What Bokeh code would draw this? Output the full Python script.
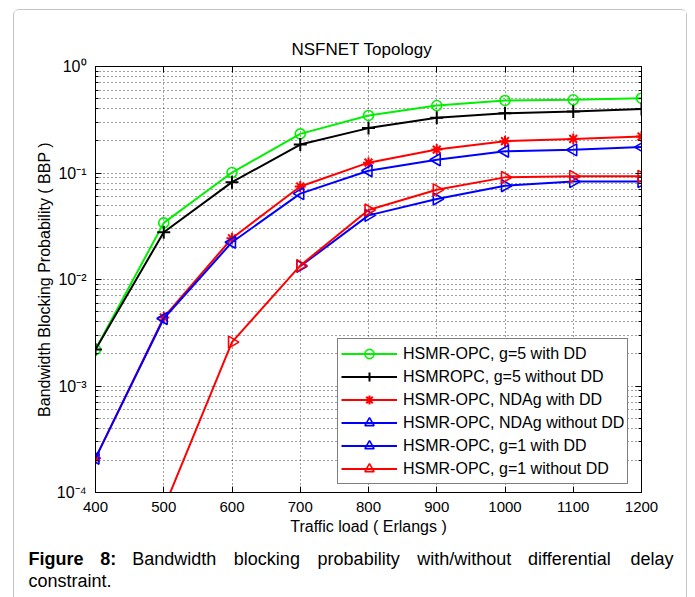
import math
from bokeh.plotting import figure
from bokeh.layouts import column
from bokeh.models import (Range1d, LinearAxis, LogAxis, FixedTicker, Legend,
                          LegendItem, CustomJSTickFormatter, ColumnDataSource)
from bokeh.core.properties import value
from bokeh.embed import file_html
from bokeh.resources import INLINE

nan = float("nan")

# ---------------- data ----------------
load = [400, 500, 600, 700, 800, 900, 1000, 1100, 1200]
g5_with_dd = [2.2e-3, 0.034, 0.101, 0.233, 0.347, 0.43, 0.48, 0.487, 0.504]
g5_without_dd = [2.2e-3, 0.0278, 0.082, 0.185, 0.264, 0.33, 0.364, 0.378, 0.40]
ndag_with_dd = [2.1e-4, 4.4e-3, 0.0244, 0.0747, 0.125, 0.166, 0.199, 0.209, 0.22]
ndag_without_dd = [2.1e-4, 4.3e-3, 0.0224, 0.064, 0.105, 0.133, 0.16, 0.165, 0.175]
g1_with_dd = [nan, nan, nan, 0.0133, 0.040, 0.057, 0.076, 0.083, 0.083]
g1_without_dd = [nan, 7.1e-5, 2.58e-3, 0.0135, 0.045, 0.0695, 0.091, 0.093, 0.093]

series_labels = ["HSMR-OPC, g=5 with DD", "HSMROPC, g=5 without DD",
                 "HSMR-OPC, NDAg with DD", "HSMR-OPC, NDAg without DD",
                 "HSMR-OPC, g=1 with DD", "HSMR-OPC, g=1 without DD"]

x_ticks = [400, 500, 600, 700, 800, 900, 1000, 1100, 1200]
y_exponents = [0, -1, -2, -3, -4]
y_major = [10.0 ** e for e in y_exponents]
y_minor = [k * 10.0 ** e for e in range(-4, 0) for k in range(2, 10)]

title_text = "NSFNET Topology"
xlabel_text = "Traffic load ( Erlangs )"
ylabel_text = "Bandwidth Blocking Probability ( BBP )"
caption_line1 = ["Figure", "8:", "Bandwidth", "blocking", "probability",
                 "with/without", "differential", "delay"]
caption_line2 = ["constraint."]

FONT = "Liberation Sans"

# ---------------- chart figure ----------------
# canvas origin in window: (14, 10); frame window box x 95..643, y 66..492
p = figure(width=674, height=534, x_range=Range1d(400, 1200), y_range=Range1d(1e-4, 1),
           y_axis_type="log", output_backend="svg", toolbar_location=None,
           min_border_left=81, min_border_right=45, min_border_top=56, min_border_bottom=52)
p.frame_align = False
p.background_fill_color = "white"
p.border_fill_color = "white"
p.outline_line_color = "black"

p.title.text = title_text
p.title.align = "left"
p.title.offset = 196
p.title.text_font = FONT
p.title.text_font_size = "17px"
p.title.text_font_style = "normal"
p.title.text_color = "black"
p.title.standoff = 16

empty = CustomJSTickFormatter(code="return ''")
sup_fmt = CustomJSTickFormatter(code="""
const e = Math.round(Math.log10(tick));
const sup = {"0": "\u2070", "1": "\u00b9", "2": "\u00b2", "3": "\u00b3", "4": "\u2074", "-": "\u207b"};
return "10" + String(e).split("").map((c) => sup[c]).join("");
""")

# bottom axis
xa = p.xaxis[0]
xa.ticker = FixedTicker(ticks=x_ticks)
xa.major_label_text_font = FONT
xa.major_label_text_font_size = "15px"
xa.major_label_text_color = "black"
xa.major_label_standoff = 9
xa.axis_label = xlabel_text
xa.axis_label_text_font = FONT
xa.axis_label_text_font_size = "16px"
xa.axis_label_text_font_style = "normal"
xa.axis_label_text_color = "black"
xa.axis_label_standoff = 3

# left axis
ya = p.yaxis[0]
ya.ticker = FixedTicker(ticks=y_major, minor_ticks=y_minor)
ya.formatter = sup_fmt
ya.major_label_text_font = FONT
ya.major_label_text_font_size = "16px"
ya.major_label_text_color = "black"
ya.major_label_standoff = 9
ya.axis_label = ylabel_text
ya.axis_label_text_font = FONT
ya.axis_label_text_font_size = "16px"
ya.axis_label_text_font_style = "normal"
ya.axis_label_text_color = "black"
ya.axis_label_standoff = 1

top = LinearAxis(ticker=FixedTicker(ticks=x_ticks), formatter=empty)
right = LogAxis(ticker=FixedTicker(ticks=y_major, minor_ticks=y_minor), formatter=empty)
p.add_layout(top, "above")
p.add_layout(right, "right")

for ax in [xa, ya, top, right]:
    ax.axis_line_color = "black"
    ax.major_tick_line_color = "black"
    ax.minor_tick_line_color = "black"
    ax.major_tick_in = 6
    ax.major_tick_out = 0
    ax.minor_tick_in = 3
    ax.minor_tick_out = 0

# grids (MATLAB style dotted)
for g in [p.xgrid[0], p.ygrid[0]]:
    g.grid_line_color = "black"
    g.grid_line_dash = "1 3"
    g.grid_line_alpha = 0.75
    g.grid_line_width = 1
p.ygrid[0].minor_grid_line_color = "black"
p.ygrid[0].minor_grid_line_dash = "1 3"
p.ygrid[0].minor_grid_line_alpha = 0.75

# ---------------- series ----------------
src = ColumnDataSource(dict(x=load, g5a=g5_with_dd, g5b=g5_without_dd, nda=ndag_with_dd,
                            ndb=ndag_without_dd, g1a=g1_with_dd, g1b=g1_without_dd))

styles = [
    ("g5a", "#00f000", "circle", 10, 0.0, 1.6),
    ("g5b", "#000000", "cross", 13, 0.0, 2.0),
    ("nda", "#ff0000", "asterisk", 11, 0.0, 2.0),
    ("ndb", "#0000ff", "triangle", 12, math.pi / 2, 1.6),
    ("g1a", "#0000ff", "triangle", 12, -math.pi / 2, 1.6),
    ("g1b", "#ff0000", "triangle", 12, -math.pi / 2, 1.6),
]

items = []
for (col, color, marker, size, ang, mlw), lab in zip(styles, series_labels):
    lr = p.line("x", col, source=src, line_color=color, line_width=2)
    sr = p.scatter("x", col, source=src, marker=marker, size=size, angle=ang,
                   line_color=color, fill_color=None, line_width=mlw)
    items.append(LegendItem(label=lab, renderers=[lr, sr]))

legend = Legend(items=items, location=(242, 8))
legend.label_text_font = FONT
legend.label_text_font_size = "16px"
legend.label_text_color = "black"
legend.border_line_color = "black"
legend.border_line_width = 1
legend.background_fill_color = "white"
legend.background_fill_alpha = 1
legend.padding = 3
legend.spacing = 0
legend.margin = 0
legend.glyph_width = 56
legend.glyph_height = 23
legend.label_height = 23
legend.label_width = 210
legend.label_standoff = 6
p.add_layout(legend, "center")

# ---------------- caption figure ----------------
# caption canvas: window x 14..688, y 544..597
cap_h = 53
cap = figure(width=674, height=cap_h, x_range=Range1d(0, 674), y_range=Range1d(cap_h, 0),
             output_backend="svg", toolbar_location=None, x_axis_type=None, y_axis_type=None,
             min_border=0, min_border_left=0, min_border_right=0, min_border_top=0,
             min_border_bottom=0)
cap.frame_align = False
cap.outline_line_color = None
cap.grid.visible = False
cap.background_fill_color = "white"
cap.border_fill_color = "white"

# justified first line: word left positions (window x) - 14
line1_x = [28, 100, 132, 234, 318, 418, 529, 675]
line1_x = [v - 14 for v in line1_x]
bold_n = 2
cap.text(x=line1_x[:bold_n], y=[14] * bold_n, text=caption_line1[:bold_n],
         text_font=value(FONT), text_font_size=value("18px"), text_font_style="bold",
         text_baseline="middle", text_align="left", text_color="black")
cap.text(x=line1_x[bold_n:-1], y=[14] * (len(caption_line1) - bold_n - 1),
         text=caption_line1[bold_n:-1], text_font=value(FONT),
         text_font_size=value("18px"), text_baseline="middle", text_align="left",
         text_color="black")
cap.text(x=line1_x[-1:], y=[14], text=caption_line1[-1:], text_font=value(FONT),
         text_font_size=value("18px"), text_baseline="middle", text_align="right",
         text_color="black")
cap.text(x=[28 - 14], y=[36], text=caption_line2, text_font=value(FONT),
         text_font_size=value("18px"), text_baseline="middle", text_align="left",
         text_color="black")

layout = column(p, cap, spacing=0)
layout.styles = {"margin-left": "13px", "margin-top": "9px", "border": "1px solid #c4c4c4",
                 "border-bottom": "none", "border-radius": "6px 6px 0 0",
                 "width": "674px"}

with open("out.html", "w") as f:
    f.write(file_html(layout, INLINE))
